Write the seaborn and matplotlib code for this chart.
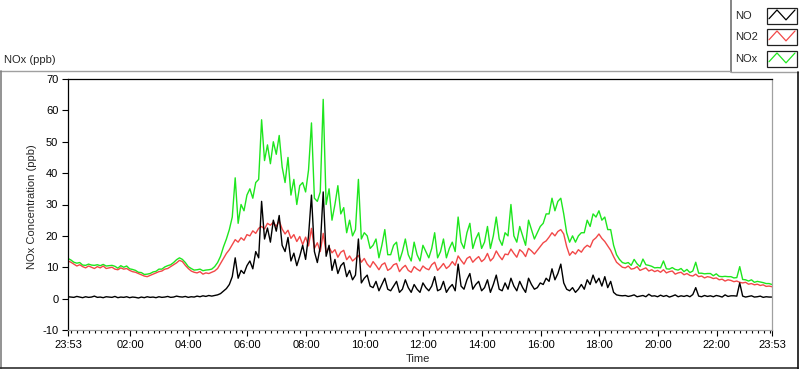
import numpy as np
import pandas as pd
import matplotlib
matplotlib.use("Agg")
import matplotlib.pyplot as plt
from matplotlib.lines import Line2D
from matplotlib.patches import Rectangle
import seaborn as sns

# ---------------- data (6-minute samples starting 23:53) ----------------
step_min = 6

no = [
    0.6, 0.5, 0.4, 0.7, 0.5, 0.3, 0.6, 0.4, 0.5, 0.8,
    0.4, 0.5, 0.3, 0.6, 0.5, 0.4, 0.7, 0.3, 0.5, 0.4,
    0.6, 0.3, 0.5, 0.4, 0.2, 0.5, 0.3, 0.6, 0.4, 0.5,
    0.3, 0.6, 0.4, 0.5, 0.7, 0.4, 0.5, 0.8, 0.6, 0.5,
    0.7, 0.4, 0.6, 0.5, 0.8, 0.6, 0.9, 0.7, 1.0, 0.8,
    1.0, 1.2, 1.6, 2.4, 3.2, 4.5, 7.0, 13.0, 6.5, 9.0,
    8.0, 10.5, 12.0, 9.5, 15.0, 13.0, 31.0, 19.0, 22.5, 18.0,
    25.0, 21.5, 26.5, 17.0, 15.0, 19.5, 12.0, 14.5, 10.5, 13.5,
    17.0, 12.5, 20.0, 33.0, 15.0, 11.5, 16.5, 34.0, 13.5, 17.0,
    9.0, 12.5, 8.0, 10.5, 11.5, 7.0, 9.0, 6.0, 7.5, 19.0,
    5.0, 6.5, 7.5, 4.0, 3.5, 5.5, 2.5, 4.5, 6.5, 3.0,
    2.5, 4.0, 5.5, 2.0, 3.0, 6.0, 3.5, 2.0, 4.5, 3.0,
    2.0, 5.0, 3.5, 2.5, 4.0, 7.0, 2.5, 3.0, 5.5, 2.0,
    3.5, 4.5, 2.5, 11.0, 4.0, 3.0, 6.0, 8.0, 3.0, 4.5,
    5.5, 2.5, 3.5, 6.0, 2.0, 4.5, 7.5, 3.0, 2.5, 5.0,
    3.0, 6.5, 4.0, 2.5, 5.5, 3.5, 2.0, 6.5, 4.5, 3.0,
    3.5, 5.0, 4.5, 6.5, 5.5, 9.5, 6.0, 8.0, 11.0, 5.0,
    3.0, 2.5, 3.5, 2.0, 3.0, 4.5, 3.0, 6.0, 4.5, 7.5,
    5.0, 6.5, 4.0, 7.0, 3.5, 5.5, 2.0, 1.2, 1.0, 0.9,
    1.0, 0.7, 0.9, 1.2, 0.6, 0.8, 1.0, 0.6, 1.4, 0.8,
    0.9, 0.6, 1.1, 0.7, 1.0, 0.5, 0.8, 1.2, 0.6, 0.9,
    0.7, 1.0, 0.6, 1.3, 3.5, 0.8, 0.6, 1.0, 0.7, 0.9,
    0.6, 1.0, 0.8, 0.5, 1.2, 0.7, 0.9, 0.9, 0.8, 5.0,
    0.8, 0.5, 0.7, 0.9, 0.5, 0.6, 0.8, 0.4, 0.6, 0.5, 0.5,
]

no2 = [
    12.0, 11.6, 11.0, 10.4, 10.8, 10.2, 9.8, 10.4, 10.0, 9.6,
    10.2, 9.8, 10.4, 9.6, 9.8, 10.0, 9.4, 9.2, 9.8, 9.4,
    9.6, 9.0, 8.6, 8.4, 8.0, 7.6, 7.2, 7.0, 7.4, 7.8,
    8.2, 8.6, 8.8, 9.4, 9.6, 10.2, 10.8, 11.4, 12.2, 11.8,
    10.6, 9.6, 8.8, 8.4, 8.2, 8.6, 7.8, 8.2, 8.0, 8.4,
    8.8, 9.6, 11.2, 12.8, 14.4, 15.6, 17.2, 18.8, 18.0, 19.4,
    18.6, 20.4, 20.0, 21.6, 20.8, 22.4, 23.0, 22.2, 24.0, 23.4,
    24.4, 23.0, 24.8, 22.2, 20.6, 21.8, 19.2, 20.4, 18.2, 19.8,
    17.2, 19.6, 16.8, 22.4, 16.0, 17.8, 15.0, 20.8, 14.6, 16.4,
    14.6, 15.6, 13.2, 14.8, 15.4, 12.4, 13.6, 12.0, 12.8, 13.8,
    11.6, 12.8, 11.0, 10.0, 11.8, 10.6, 9.2, 10.8, 11.4, 9.0,
    9.6, 10.8, 11.2, 8.6, 9.8, 10.6, 9.0, 8.4, 10.2, 9.4,
    8.8, 10.4, 9.6, 9.2, 10.8, 11.6, 9.0, 10.0, 11.2, 9.6,
    10.4, 11.8, 10.6, 13.6, 12.2, 11.0, 12.8, 13.4, 11.6, 12.6,
    13.4, 11.8, 12.6, 14.4, 12.0, 13.0, 15.2, 13.6, 12.4, 14.2,
    14.0, 15.8, 14.4, 13.2, 15.6, 14.8, 13.4, 16.0, 15.2, 14.2,
    15.4, 16.6, 17.8, 18.4, 19.6, 21.0, 20.0, 21.4, 22.0, 20.6,
    16.6, 13.8, 15.0, 14.2, 15.6, 14.8, 16.2, 17.0, 16.4, 18.6,
    19.4, 20.6, 19.2, 18.2, 16.8, 15.4, 13.4, 11.6, 10.8, 10.0,
    9.8, 10.4, 9.4, 9.6, 10.2, 9.0, 9.4, 9.8, 8.8, 9.2,
    8.6, 9.0, 8.4, 9.2, 8.2, 8.6, 8.8, 7.8, 8.2, 8.4,
    7.6, 8.0, 7.4, 7.2, 7.8, 7.0, 7.2, 6.6, 7.0, 6.8,
    6.4, 6.6, 6.0, 6.2, 5.6, 6.0, 5.8, 5.4, 5.6, 5.2,
    5.0, 5.2, 4.6, 4.8, 4.4, 4.6, 4.2, 4.4, 3.9, 4.0, 3.8,
]

nox = [
    12.8, 12.3, 11.6, 11.3, 11.5, 10.7, 10.6, 11.0, 10.7, 10.6,
    10.8, 10.5, 10.9, 10.4, 10.5, 10.6, 10.3, 9.7, 10.5, 10.0,
    10.4, 9.5, 9.3, 9.0, 8.4, 8.3, 7.7, 7.8, 8.0, 8.5,
    8.7, 9.4, 9.4, 10.1, 10.5, 10.8, 11.5, 12.4, 13.0, 12.5,
    11.5, 10.2, 9.6, 9.1, 9.2, 9.4, 8.9, 9.1, 9.2, 9.4,
    10.2, 11.5, 13.5, 16.5, 19.0, 22.0, 26.0, 38.5, 24.0, 30.0,
    28.0, 33.0, 35.0, 32.0, 37.0, 38.0, 57.0, 44.0, 49.0, 43.0,
    50.0, 46.0, 52.0, 42.0, 37.0, 45.0, 33.0, 38.0, 30.0, 36.0,
    37.0, 34.0, 41.0, 56.0, 32.0, 31.0, 34.0, 63.5, 30.0, 35.0,
    25.0, 30.0, 36.0, 27.0, 29.0, 21.0, 25.0, 20.0, 22.0, 38.0,
    19.0, 21.0, 20.0, 16.0, 17.0, 19.0, 13.0, 17.0, 22.0, 14.0,
    14.0, 17.0, 18.0, 12.0, 15.0, 19.0, 14.0, 12.0, 18.0, 14.0,
    12.0, 17.0, 15.0, 13.0, 16.0, 21.0, 13.0, 15.0, 19.0, 13.0,
    16.0, 18.0, 15.0, 26.0, 18.0, 16.0, 21.0, 24.0, 16.0, 19.0,
    21.0, 16.0, 18.0, 23.0, 16.0, 20.0, 26.0, 19.0, 17.0, 21.0,
    20.0, 30.0, 20.0, 18.0, 23.0, 20.0, 17.0, 25.0, 22.0, 19.0,
    21.0, 23.0, 24.0, 27.0, 27.0, 32.0, 28.0, 31.0, 32.0, 27.0,
    21.0, 18.0, 20.0, 18.0, 20.0, 21.0, 21.0, 25.0, 23.0, 27.0,
    26.0, 28.0, 25.0, 26.0, 22.0, 22.0, 17.0, 14.0, 12.5, 11.5,
    11.2, 11.5, 10.6, 12.5, 11.1, 10.2, 12.6, 10.8, 10.6, 10.3,
    9.8, 9.9, 9.8, 12.0, 9.5, 9.4, 9.9, 9.3, 9.1, 9.6,
    8.6, 9.3, 8.3, 8.8, 11.6, 8.1, 8.1, 7.9, 8.0, 8.0,
    7.3, 7.9, 7.1, 7.0, 7.1, 7.0, 7.0, 6.6, 6.7, 10.2,
    6.1, 6.0, 5.6, 6.0, 5.2, 5.5, 5.3, 5.1, 4.8, 4.8, 4.5,
]

series_names = ["NO", "NO2", "NOx"]
series_colors = ["#000000", "#f24848", "#1ee61e"]

xtick_minutes = [0, 127, 247, 367, 487, 607, 727, 847, 967, 1087, 1207, 1327, 1440]
xtick_labels = ["23:53", "02:00", "04:00", "06:00", "08:00", "10:00", "12:00",
                "14:00", "16:00", "18:00", "20:00", "22:00", "23:53"]
yticks = [-10, 0, 10, 20, 30, 40, 50, 60, 70]

# ---------------- styling ----------------
sns.set_theme(style="white")
plt.rcParams["font.family"] = ["Liberation Sans", "DejaVu Sans"]
plt.rcParams["font.size"] = 8

W, H = 800, 369
fig = plt.figure(figsize=(W / 100, H / 100), dpi=100)
fig.patch.set_facecolor("white")

def fx(x):
    return x / W

def fy(y):
    return 1 - y / H

ax = fig.add_axes([fx(68), fy(330), fx(772) - fx(68), fy(79) - fy(330)])
ax.set_facecolor("white")

minutes = np.arange(len(no)) * step_min
df = pd.DataFrame({"minutes": minutes, "NO": no, "NO2": no2, "NOx": nox})
long = df.melt(id_vars="minutes", var_name="species", value_name="ppb")
palette = dict(zip(series_names, series_colors))

sns.lineplot(data=long, x="minutes", y="ppb", hue="species",
             hue_order=["NOx", "NO2", "NO"], palette=palette,
             estimator=None, linewidth=1.0, legend=False, ax=ax)

ax.set_xlim(0, 1440)
ax.set_ylim(-10, 70)
ax.set_xticks(xtick_minutes)
ax.set_xticklabels(xtick_labels)
ax.set_xticks(np.arange(7, 1440, 12), minor=True)
ax.set_yticks(yticks)
ax.set_yticklabels([str(v) for v in yticks])

ax.tick_params(axis="both", which="major", direction="out", length=4,
               width=0.8, color="black", labelsize=8, labelcolor="black", pad=3,
               bottom=True, left=True)
ax.tick_params(axis="x", which="minor", direction="out", length=2.5,
               width=0.8, color="black", bottom=True)

for side, col in [("top", "black"), ("left", "black"),
                  ("bottom", "#a0a0a0"), ("right", "#a0a0a0")]:
    ax.spines[side].set_visible(True)
    ax.spines[side].set_color(col)
    ax.spines[side].set_linewidth(0.9)

ax.set_xlabel("Time", fontsize=8)
ax.set_ylabel("NOx Concentration (ppb)", fontsize=8)
ax.xaxis.set_label_coords(0.497, -0.095)
ax.yaxis.set_label_coords(-0.044, 0.49)
ax.grid(False)

# ---------------- outer panel frame ----------------
def fline(x0, y0, x1, y1, color, lw=1.0):
    fig.add_artist(Line2D([fx(x0), fx(x1)], [fy(y0), fy(y1)],
                          transform=fig.transFigure, color=color, lw=lw))

fline(0, 70.5, 730, 70.5, "#a0a0a0")
fline(0.5, 70.5, 0.5, 369, "#808080", 1.2)
fline(0, 367.8, 798, 367.8, "#303030", 1.2)
fline(798, 71.5, 798, 369, "#101010", 1.2)

fig.text(fx(4), fy(60), "NOx (ppb)", fontsize=8, va="center", ha="left")

# ---------------- legend ----------------
lax = fig.add_axes([fx(730), fy(73), fx(800) - fx(730), fy(0) - fy(73)])
lax.set_xlim(730, 800)
lax.set_ylim(73, 0)
lax.axis("off")
lax.plot([730.8, 730.8], [0, 71.5], color="#707070", lw=1.2, clip_on=False)
lax.plot([730.8, 798], [71.5, 71.5], color="#a0a0a0", lw=1.0, clip_on=False)

swatch_tops = [7.5, 28.5, 50.5]
for name, color, top in zip(series_names, series_colors, swatch_tops):
    h = 16.5
    lax.add_patch(Rectangle((767, top), 30, h, facecolor="white",
                            edgecolor="#202020", lw=0.9))
    zx = [769, 777, 786, 795]
    zy = [top + 0.68 * h, top + 0.15 * h, top + 0.75 * h, top + 0.15 * h]
    lax.plot(zx, zy, color=color, lw=0.9)
    lax.text(735, top + h / 2, name, fontsize=8, va="center", ha="left")

fig.savefig("out.png", dpi=100, facecolor="white")
